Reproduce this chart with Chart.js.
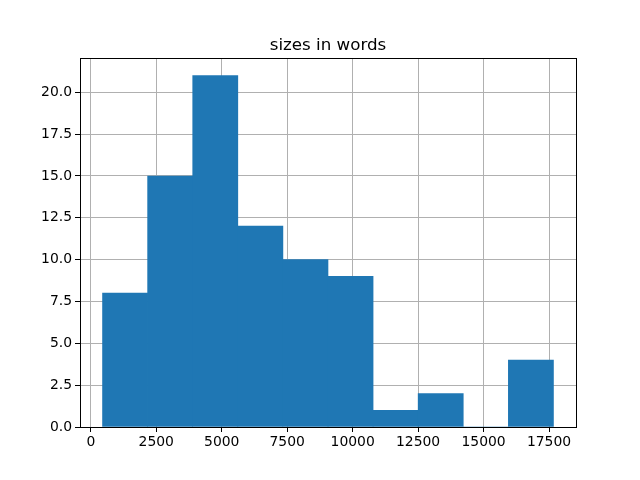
<!DOCTYPE html>
<html>
<head>
<meta charset="utf-8">
<script src="https://cdn.jsdelivr.net/npm/chart.js@4"></script>
<style>
  html, body { margin: 0; padding: 0; background: #fff; }
  #wrap { width: 640px; height: 480px; }
</style>
</head>
<body>
<div id="wrap"><canvas id="hist"></canvas></div>
<script>
// histogram data
const binEdges = [448, 2170, 3892, 5614, 7336, 9058, 10780, 12502, 14224, 15947, 17669];
const counts = [8, 15, 21, 12, 10, 9, 1, 2, 0, 4];
const xTicks = [0, 2500, 5000, 7500, 10000, 12500, 15000, 17500];
const yTicks = [0, 2.5, 5, 7.5, 10, 12.5, 15, 17.5, 20];
const titleText = 'sizes in words';

const points = counts.map((c, i) => ({ x: (binEdges[i] + binEdges[i + 1]) / 2, y: c }));

// matplotlib draws spines on all four sides, and centres the title over the axes
const frame = {
    id: 'frame',
    afterDraw(chart) {
        const { ctx, chartArea: a } = chart;
        ctx.save();
        ctx.strokeStyle = '#000';
        ctx.lineWidth = 1;
        ctx.strokeRect(Math.round(a.left) + 0.5, Math.round(a.top) + 0.5,
            Math.round(a.right - a.left), Math.round(a.bottom - a.top));
        ctx.fillStyle = '#000';
        ctx.font = "16.7px 'DejaVu Sans', sans-serif";
        ctx.textAlign = 'center';
        ctx.textBaseline = 'alphabetic';
        ctx.fillText(titleText, (a.left + a.right) / 2, a.top - 8);
        ctx.restore();
    }
};

const tickFont = { family: "'DejaVu Sans', sans-serif", size: 13.9 };

new Chart(document.getElementById('hist'), {
    type: 'bar',
    data: {
        datasets: [{
            data: points,
            backgroundColor: '#1f77b4',
            borderWidth: 0,
            barPercentage: 1,
            categoryPercentage: 1
        }]
    },
    options: {
        responsive: true,
        maintainAspectRatio: false,
        animation: false,
        layout: { padding: { left: 0, right: 64, top: 58, bottom: 0 } },
        plugins: {
            legend: { display: false },
            tooltip: { enabled: false },
            title: { display: false }
        },
        scales: {
            x: {
                type: 'linear',
                min: -413,
                max: 18530,
                offset: false,
                z: 1,
                afterBuildTicks: s => { s.ticks = xTicks.map(v => ({ value: v })); },
                afterFit: s => { s.height = 53; },
                ticks: { color: '#000', font: tickFont, padding: 2, maxRotation: 0, includeBounds: false, callback: v => String(v) },
                grid: { color: '#b0b0b0', lineWidth: 1, tickColor: '#000', tickLength: 5, offset: false },
                border: { display: false }
            },
            y: {
                min: 0,
                max: 22.05,
                z: 1,
                afterBuildTicks: s => { s.ticks = yTicks.map(v => ({ value: v })); },
                afterFit: s => { s.width = 80; },
                ticks: { color: '#000', font: tickFont, padding: 3, callback: v => v.toFixed(1) },
                grid: { color: '#b0b0b0', lineWidth: 1, tickColor: '#000', tickLength: 5 },
                border: { display: false }
            }
        }
    },
    plugins: [frame]
});
</script>
</body>
</html>
